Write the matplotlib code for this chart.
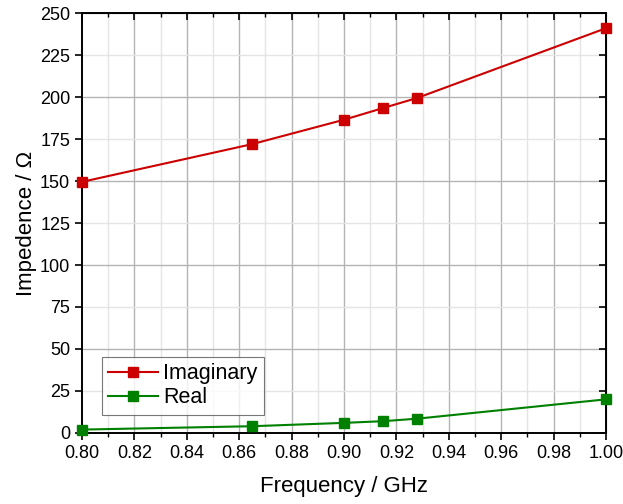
import matplotlib
matplotlib.use('Agg')
import matplotlib.pyplot as plt
from matplotlib.ticker import MultipleLocator, FormatStrFormatter

plt.rcParams['font.family'] = ['Liberation Sans', 'DejaVu Sans']

freq = [0.80, 0.865, 0.90, 0.915, 0.928, 1.00]
imaginary = [149.5, 172.0, 186.5, 193.5, 199.5, 241.0]
real = [2.0, 4.0, 6.0, 7.0, 8.5, 20.0]


def main():
    fig = plt.figure(figsize=(6.23, 5.04), dpi=100)
    ax = fig.add_axes([0.1316, 0.141, 0.8411, 0.833])

    ax.plot(freq, imaginary, color='#cc0000', lw=1.5, marker='s', ms=7,
            label='Imaginary', clip_on=False, zorder=3)
    ax.plot(freq, real, color='#008000', lw=1.5, marker='s', ms=7,
            label='Real', clip_on=False, zorder=3)

    ax.set_xlim(0.80, 1.00)
    ax.set_ylim(0, 250)
    ax.xaxis.set_major_locator(MultipleLocator(0.02))
    ax.xaxis.set_minor_locator(MultipleLocator(0.01))
    ax.xaxis.set_major_formatter(FormatStrFormatter('%.2f'))
    ax.yaxis.set_major_locator(MultipleLocator(25))

    # darker grid on major steps, lighter on minor
    for i in range(1, 20):
        xv = 0.80 + i * 0.01
        ax.axvline(xv, color='#b4b4b4' if i % 2 == 0 else '#e4e4e4', lw=1, zorder=0)
    for yv in range(25, 250, 25):
        ax.axhline(yv, color='#b4b4b4' if yv % 50 == 0 else '#e4e4e4', lw=1, zorder=0)

    ax.tick_params(axis='both', which='major', labelsize=13, length=5, width=1.2,
                   direction='out')
    ax.tick_params(axis='both', which='minor', length=3, width=1.0, direction='out')
    for s in ax.spines.values():
        s.set_linewidth(1.4)

    # mirrored ticks on top/right, inward
    axt = ax.secondary_xaxis('top')
    axt.xaxis.set_major_locator(MultipleLocator(0.02))
    axt.xaxis.set_minor_locator(MultipleLocator(0.01))
    axt.tick_params(which='major', direction='in', length=5, width=1.2, labeltop=False)
    axt.tick_params(which='minor', direction='in', length=3, width=1.0)
    axr = ax.secondary_yaxis('right')
    axr.yaxis.set_major_locator(MultipleLocator(25))
    axr.tick_params(direction='in', length=5, width=1.2, labelright=False)

    ax.set_xlabel('Frequency / GHz', fontsize=16, labelpad=10)
    ax.set_ylabel('Impedence / Ω', fontsize=16, labelpad=2)

    leg = ax.legend(loc='lower left', bbox_to_anchor=(0.038, 0.043), fontsize=15.5,
                    frameon=True, fancybox=False, edgecolor='#555555',
                    handlelength=2.3, borderpad=0.3, labelspacing=0.15,
                    handletextpad=0.25, borderaxespad=0, markerscale=1.1)
    leg.get_frame().set_linewidth(0.8)

    fig.savefig('out.png', dpi=100)
    plt.close(fig)


if __name__ == '__main__':
    main()
